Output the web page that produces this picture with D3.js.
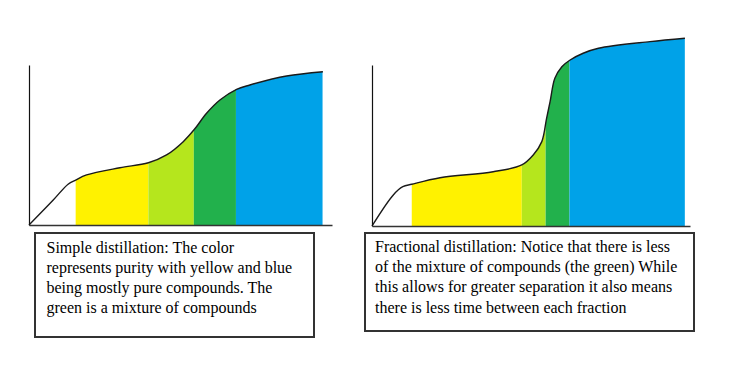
<!DOCTYPE html>
<html><head><meta charset="utf-8">
<script src="https://cdn.jsdelivr.net/npm/d3@7"></script>
<style>body{margin:0;background:#fff}svg{display:block}
.cap{font-family:"Liberation Serif","Times New Roman","DejaVu Serif",serif;font-size:16px;fill:#000}</style>
</head><body><svg id="c" width="740" height="368"></svg>
<script>
// Simple distillation curve (time %, temperature %)
const simpleTime = [0, 8.0, 12.9, 15.4, 19.0, 30.0, 39.4, 45.4, 50.9, 54.6, 58.6, 63.0, 68.5, 72.9, 85.0, 97.0];
const simpleTemp = [0, 15.6, 25.5, 28.1, 31.3, 35.8, 38.9, 43.8, 52.1, 59.8, 69.8, 78.1, 84.8, 87.5, 93.1, 95.8];
const simpleCuts = [15.4, 39.4, 54.4, 68.3, 96.9];
// Fractional distillation curve
const fracTime = [0, 6.7, 9.7, 12.5, 21.4, 38.1, 47.1, 50.7, 53.4, 54.9, 56.0, 57.5, 59.7, 62.3, 66.4, 71.2, 87.4, 98.4];
const fracTemp = [0, 19.3, 24.4, 25.9, 30.0, 33.7, 37.9, 44.1, 52.4, 66.9, 77.2, 91.7, 98.9, 103.1, 107.3, 110.4, 114.5, 116.6];
const fracCuts = [12.5, 47.1, 54.6, 62.1, 98.4];
const fractionColors = ["#fff200", "#b5e61d", "#22b14c", "#00a2e8"];
const simpleCaption = ["Simple distillation: The color", "represents purity with yellow and blue", "being mostly pure compounds. The", "green is a mixture of compounds"];
const fracCaption = ["Fractional distillation: Notice that there is less", "of the mixture of compounds (the green) While", "this allows for greater separation it also means", "there is less time between each fraction"];

const svg = d3.select("#c");

function panel(id, time, temp, cuts, frame, caption, box) {
  const x = d3.scaleLinear().domain([0, 100]).range([frame.x0, frame.x1]);
  const y = d3.scaleLinear().domain([0, 100]).range([frame.y0, frame.y1]);
  const pts = time.map((t, i) => [t, temp[i]]);
  const g = svg.append("g");
  const curve = d3.curveCatmullRom.alpha(0.5);
  const area = d3.area().x(d => x(d[0])).y0(y(0)).y1(d => y(d[1])).curve(curve);
  const line = d3.line().x(d => x(d[0])).y(d => y(d[1])).curve(curve);
  const defs = svg.append("defs");
  fractionColors.forEach((c, i) => {
    defs.append("clipPath").attr("id", id + "c" + i)
      .append("rect").attr("x", x(cuts[i])).attr("width", x(cuts[i + 1]) - x(cuts[i]))
      .attr("y", 0).attr("height", y(0));
    g.append("path").datum(pts).attr("d", area).attr("fill", c)
      .attr("clip-path", `url(#${id}c${i})`);
  });
  g.append("path").datum(pts).attr("d", line).attr("fill", "none")
    .attr("stroke", "#1a1a1a").attr("stroke-width", 1.4);
  g.append("g").attr("transform", `translate(0,${y(0)})`)
    .call(d3.axisBottom(x).tickValues([]).tickSizeOuter(0))
    .select(".domain").attr("stroke", "#333").attr("stroke-width", 1.5);
  g.append("g").attr("transform", `translate(${x(0)},0)`)
    .call(d3.axisLeft(y).tickValues([]).tickSizeOuter(0))
    .select(".domain").attr("stroke", "#111").attr("stroke-width", 1.2);
  g.append("rect").attr("x", box.x).attr("y", box.y).attr("width", box.w).attr("height", box.h)
    .attr("fill", "#fff").attr("stroke", "#333").attr("stroke-width", 2);
  const t = g.append("text").attr("class", "cap");
  caption.forEach((s, i) => t.append("tspan").attr("x", box.tx).attr("y", box.ty + i * 20.2).text(s));
}

panel("s", simpleTime, simpleTemp, simpleCuts,
  {x0: 29, x1: 332, y0: 225, y1: 65}, simpleCaption,
  {x: 35, y: 233, w: 279, h: 104, tx: 46.5, ty: 252.5});
panel("f", fracTime, fracTemp, fracCuts,
  {x0: 372, x1: 690, y0: 226, y1: 65}, fracCaption,
  {x: 365, y: 233, w: 329, h: 98, tx: 375, ty: 252});
</script></body></html>
